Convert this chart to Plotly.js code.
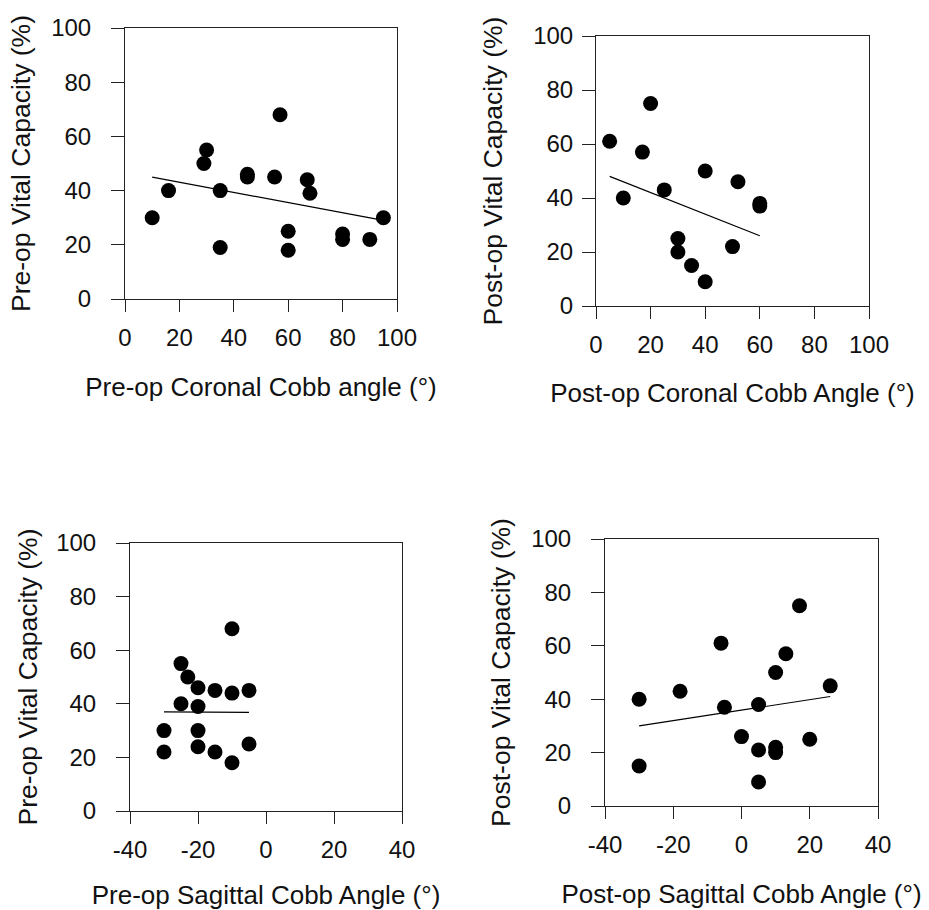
<!DOCTYPE html>
<html>
<head>
<meta charset="utf-8">
<script src="https://cdn.plot.ly/plotly-3.0.1.min.js"></script>
<style>html,body{margin:0;padding:0;background:#fff;}#chart{width:929px;height:910px;}</style>
</head>
<body>
<div id="chart"></div>
<script>
// Panel A: Pre-op coronal Cobb angle vs pre-op vital capacity
const preCoronalX = [10, 16, 29, 30, 35, 35, 45, 45, 55, 57, 67, 68, 60, 60, 80, 80, 90, 95];
const preCoronalVC = [30, 40, 50, 55, 40, 19, 46, 45, 45, 68, 44, 39, 25, 18, 24, 22, 22, 30];
const preCoronalFitX = [10, 95];
const preCoronalFitY = [45, 29];

// Panel B: Post-op coronal Cobb angle vs post-op vital capacity
const postCoronalX = [5, 10, 20, 17, 25, 40, 52, 60, 60, 30, 30, 35, 40, 50];
const postCoronalVC = [61, 40, 75, 57, 43, 50, 46, 38, 37, 25, 20, 15, 9, 22];
const postCoronalFitX = [5, 60];
const postCoronalFitY = [48, 26];

// Panel C: Pre-op sagittal Cobb angle vs pre-op vital capacity
const preSagittalX = [-30, -30, -25, -23, -25, -20, -20, -20, -20, -15, -15, -10, -10, -10, -5, -5];
const preSagittalVC = [30, 22, 55, 50, 40, 46, 39, 30, 24, 45, 22, 68, 44, 18, 45, 25];
const preSagittalFitX = [-30, -5];
const preSagittalFitY = [37, 36.8];

// Panel D: Post-op sagittal Cobb angle vs post-op vital capacity
const postSagittalX = [-30, -30, -18, -6, -5, 0, 5, 5, 5, 10, 10, 10, 13, 17, 20, 26];
const postSagittalVC = [40, 15, 43, 61, 37, 26, 38, 21, 9, 50, 22, 20, 57, 75, 25, 45];
const postSagittalFitX = [-30, 26];
const postSagittalFitY = [30, 41];

// Tick labels
const coronalTickVals = [0, 20, 40, 60, 80, 100];
const coronalTickText = ['0', '20', '40', '60', '80', '100'];
const sagittalTickVals = [-40, -20, 0, 20, 40];
const sagittalTickText = ['-40', '-20', '0', '20', '40'];
const vcTickVals = [0, 20, 40, 60, 80, 100];
const vcTickText = ['0', '20', '40', '60', '80', '100'];

const xTitles = ['Pre-op Coronal Cobb angle (°)', 'Post-op Coronal Cobb Angle (°)',
                 'Pre-op Sagittal Cobb Angle (°)', 'Post-op Sagittal Cobb Angle (°)'];
const yTitles = ['Pre-op Vital Capacity (%)', 'Post-op Vital Capacity (%)',
                 'Pre-op Vital Capacity (%)', 'Post-op Vital Capacity (%)'];

const FONT = 'Liberation Sans, Arial, Helvetica, sans-serif';
const panels = [
  {x: preCoronalX, y: preCoronalVC, fx: preCoronalFitX, fy: preCoronalFitY},
  {x: postCoronalX, y: postCoronalVC, fx: postCoronalFitX, fy: postCoronalFitY},
  {x: preSagittalX, y: preSagittalVC, fx: preSagittalFitX, fy: preSagittalFitY},
  {x: postSagittalX, y: postSagittalVC, fx: postSagittalFitX, fy: postSagittalFitY}
];

const traces = [];
panels.forEach((p, i) => {
  const xa = i === 0 ? 'x' : 'x' + (i + 1);
  const ya = i === 0 ? 'y' : 'y' + (i + 1);
  traces.push({type: 'scatter', mode: 'markers', x: p.x, y: p.y, xaxis: xa, yaxis: ya,
    marker: {color: '#000', size: 15}, showlegend: false, hoverinfo: 'x+y', cliponaxis: false});
  traces.push({type: 'scatter', mode: 'lines', x: p.fx, y: p.fy, xaxis: xa, yaxis: ya,
    line: {color: '#000', width: 1.2}, showlegend: false, hoverinfo: 'skip'});
});

const W = 929, H = 910;
// plot areas in pixels: [left, right, top, bottom]
const boxes = [
  [125, 397, 28, 299],
  [596, 869, 36, 306],
  [130, 402, 543, 811],
  [605, 878, 539, 806]
];
const xRanges = [[0, 100], [0, 100], [-40, 40], [-40, 40]];
const xTickVals = [coronalTickVals, coronalTickVals, sagittalTickVals, sagittalTickVals];
const xTickText = [coronalTickText, coronalTickText, sagittalTickText, sagittalTickText];
const yLabelStandoff = [15, 4, 15, 15];
const yTitleStandoff = [12, 22, 10.5, 12];
const xTitleStandoff = [28, 27, 26, 28];

const layout = {
  width: W, height: H,
  margin: {l: 0, r: 0, t: 0, b: 0},
  paper_bgcolor: '#fff', plot_bgcolor: '#fff',
  font: {family: FONT, color: '#111', size: 24},
  showlegend: false
};

boxes.forEach((b, i) => {
  const n = i === 0 ? '' : String(i + 1);
  layout['xaxis' + n] = {
    domain: [b[0] / W, b[1] / W],
    anchor: 'y' + n,
    range: xRanges[i], tickmode: 'array', tickvals: xTickVals[i], ticktext: xTickText[i],
    showgrid: false, zeroline: false,
    showline: true, linecolor: '#222', linewidth: 1, mirror: true,
    ticks: 'outside', ticklen: 12, tickwidth: 1, tickcolor: '#222',
    ticklabelstandoff: 5,
    tickfont: {family: FONT, size: 24, color: '#111'},
    title: {text: xTitles[i], standoff: xTitleStandoff[i], font: {family: FONT, size: 26, color: '#111'}},
    fixedrange: true
  };
  layout['yaxis' + n] = {
    domain: [1 - b[3] / H, 1 - b[2] / H],
    anchor: 'x' + n,
    range: [0, 100], tickmode: 'array', tickvals: vcTickVals, ticktext: vcTickText,
    showgrid: false, zeroline: false,
    showline: true, linecolor: '#222', linewidth: 1, mirror: true,
    ticks: 'outside', ticklen: 13, tickwidth: 1, tickcolor: '#222',
    ticklabelstandoff: yLabelStandoff[i],
    tickfont: {family: FONT, size: 24, color: '#111'},
    title: {text: yTitles[i], standoff: yTitleStandoff[i], font: {family: FONT, size: 26.5, color: '#111'}},
    fixedrange: true
  };
});

Plotly.newPlot('chart', traces, layout, {staticPlot: true, displayModeBar: false});
</script>
</body>
</html>
